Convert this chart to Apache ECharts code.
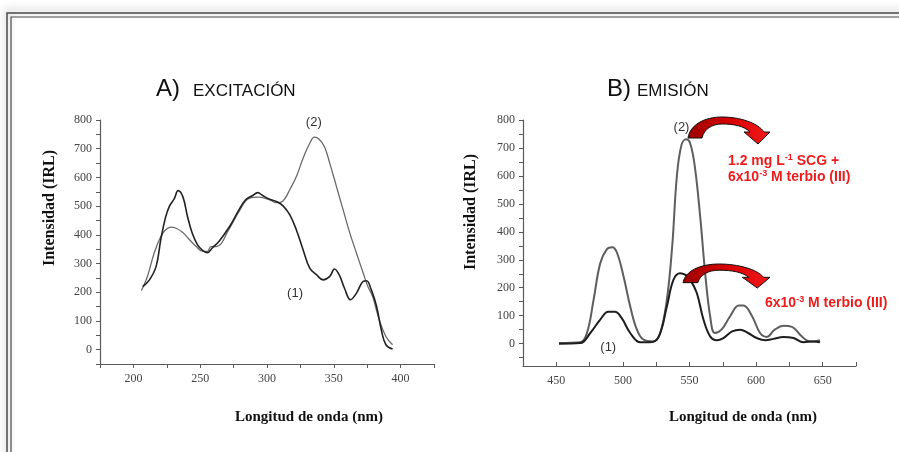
<!DOCTYPE html>
<html>
<head>
<meta charset="utf-8">
<script src="https://cdn.jsdelivr.net/npm/echarts@6/dist/echarts.min.js"></script>
<style>
  html, body { margin: 0; padding: 0; background: #fff; }
  #main { width: 899px; height: 452px; }
</style>
</head>
<body>
<div id="main"></div>
<script>
// A) excitación - wavelength (nm) and intensity
const exWl1 = [207, 212, 217, 220.5, 224, 227, 230.5, 233.5, 237, 240.5, 244, 248, 252, 255.5, 259, 264, 272, 279, 284, 289, 293, 297, 302, 307, 312, 317, 322, 327, 332, 337, 342, 347, 350.5, 354, 358, 362.5, 367, 372, 374.5, 378, 382, 385.5, 389, 394];
const exVal1 = [220, 243, 290, 383, 460, 500, 525, 554, 533, 464, 406, 365, 345, 338, 354, 377, 429, 487, 522, 536, 547, 536, 524, 516, 501, 470, 417, 348, 284, 261, 243, 255, 281, 261, 214, 174, 197, 238, 240, 209, 151, 70, 17, 2];
const exWl2 = [206, 210.5, 215.5, 220.5, 224, 228, 232, 237, 242, 247, 252, 255.5, 258, 262, 272, 279, 287, 294, 302, 307, 312, 317, 322, 327, 332, 335.5, 339, 343, 347, 352, 357, 362, 367, 372, 375.5, 379, 384, 389, 394];
const exVal2 = [206, 255, 336, 394, 417, 427, 423, 408, 383, 359, 342, 342, 359, 359, 423, 481, 528, 531, 522, 512, 518, 557, 603, 667, 719, 740, 733, 707, 649, 568, 487, 406, 336, 267, 220, 186, 104, 46, 17];

// B) emisión
const emWl1 = [452, 468, 475.5, 483, 489, 494, 499, 505.5, 513, 520.5, 527, 533, 538, 543, 547, 550.5, 555.5, 560.5, 565.5, 570.5, 575.5, 582, 588, 594, 600.5, 607, 613, 620.5, 628, 635.5, 643, 648];
const emVal1 = [0, 2, 38, 86, 114, 114, 92, 38, 5, 5, 26, 133, 229, 252, 246, 229, 181, 86, 26, 12, 20, 44, 50, 38, 20, 12, 17, 24, 20, 5, 8, 5];
const emWl2 = [452, 468, 473, 478, 483, 488, 492, 495.5, 500.5, 505.5, 510.5, 515.5, 523, 528, 533, 537, 540.5, 544, 547.5, 550.5, 554, 558, 562, 565.5, 569, 574, 580.5, 587, 590.5, 597, 603, 608, 614, 620.5, 627, 633, 638, 643, 648];
const emVal2 = [2, 5, 38, 157, 288, 338, 345, 326, 240, 133, 50, 14, 8, 38, 157, 348, 598, 711, 731, 717, 633, 455, 240, 98, 38, 50, 98, 136, 136, 98, 38, 24, 50, 64, 60, 32, 12, 8, 12];

// ticks and labels
const exXTicks = [175, 200, 225, 250, 275, 300, 325, 350, 375, 400, 425];
const exXLabels = [200, 250, 300, 350, 400];
const emXTicks = [425, 450, 475, 500, 525, 550, 575, 600, 625, 650, 675];
const emXLabels = [450, 500, 550, 600, 650];
const yTicks = [-50, 0, 50, 100, 150, 200, 250, 300, 350, 400, 450, 500, 550, 600, 650, 700, 750, 800];
const yLabels = [0, 100, 200, 300, 400, 500, 600, 700, 800];

const zip = (xs, ys) => xs.map((x, i) => [x, ys[i]]);

const chart = echarts.init(document.getElementById('main'));

const serif = "'Liberation Serif', 'DejaVu Serif', serif";
const sans = "'Liberation Sans', Arial, sans-serif";
const axisGrey = '#5a5a5a';

function xAxisFor(gridIndex, min, max, ticks, labels, inside) {
  return {
    type: 'value', gridIndex, min, max,
    axisLine: { show: true, onZero: false, lineStyle: { color: axisGrey, width: 1.2 } },
    axisTick: { show: true, inside, length: 4, customValues: ticks, lineStyle: { color: axisGrey } },
    axisLabel: { customValues: labels, margin: 9, color: '#444', fontFamily: serif, fontSize: 12 },
    splitLine: { show: false }
  };
}

function yAxisFor(gridIndex, min) {
  return {
    type: 'value', gridIndex, min, max: 800,
    axisLine: { show: true, onZero: false, lineStyle: { color: axisGrey, width: 1.2 } },
    axisTick: { show: true, length: 4, customValues: yTicks, lineStyle: { color: axisGrey } },
    axisLabel: { customValues: yLabels, margin: 8, color: '#444', fontFamily: serif, fontSize: 12 },
    splitLine: { show: false }
  };
}

function curveLabel(text, coord) {
  return {
    symbol: 'circle',
    symbolSize: 1,
    silent: true,
    itemStyle: { color: 'rgba(0,0,0,0)' },
    label: { show: true, position: 'inside', formatter: text, color: '#333', fontFamily: sans, fontSize: 13 },
    data: [{ coord, value: text }]
  };
}

// curved red arrow, local box about 82 x 27
const arrowPath = 'M0 21 C2 8 16 0 34 0 C52 0 70 6 76 15 L82 15 L70 27 L56 15 L62 15 C56 9 46 7 34 7 C24 7 16 12 14 21 Z';
// arrow boxes: left, top, width, height
const arrowBoxes = [[688, 117, 82, 27], [683, 264, 87, 24]];

const redRich = {
  t: { color: '#ee1c1c', fontSize: 14, fontWeight: 'bold', fontFamily: sans },
  s: { color: '#ee1c1c', fontSize: 9, fontWeight: 'bold', fontFamily: sans, verticalAlign: 'top', padding: [0, 0, 7, 0] }
};
function redText(x, y, text) {
  return { type: 'text', x, y, style: { text, rich: redRich, fill: '#ee1c1c', font: 'bold 14px ' + sans } };
}

chart.setOption({
  animation: false,
  backgroundColor: '#fff',
  grid: [
    { left: 100, right: 465, top: 120, bottom: 88 },
    { left: 523, right: 43, top: 120, bottom: 86 }
  ],
  xAxis: [
    xAxisFor(0, 175, 425, exXTicks, exXLabels, false),
    xAxisFor(1, 425, 675, emXTicks, emXLabels, true)
  ],
  yAxis: [
    yAxisFor(0, -50),
    yAxisFor(1, -80)
  ],
  series: [
    {
      type: 'line', xAxisIndex: 0, yAxisIndex: 0, data: zip(exWl2, exVal2),
      smooth: 0.4, symbol: 'none', lineStyle: { color: '#6a6a6a', width: 1.3 },
      markPoint: curveLabel('(2)', [335, 792])
    },
    {
      type: 'line', xAxisIndex: 0, yAxisIndex: 0, data: zip(exWl1, exVal1),
      smooth: 0.4, symbol: 'none', lineStyle: { color: '#222', width: 1.6 },
      markPoint: curveLabel('(1)', [321, 197])
    },
    {
      type: 'line', xAxisIndex: 1, yAxisIndex: 1, data: zip(emWl2, emVal2),
      smooth: 0.4, symbol: 'none', lineStyle: { color: '#5e5e5e', width: 2 },
      markPoint: curveLabel('(2)', [544, 774])
    },
    {
      type: 'line', xAxisIndex: 1, yAxisIndex: 1, data: zip(emWl1, emVal1),
      smooth: 0.4, symbol: 'none', lineStyle: { color: '#1e1e1e', width: 2 },
      markPoint: curveLabel('(1)', [489, -12])
    },
    {
      // red curved arrows
      type: 'custom', coordinateSystem: 'none', silent: true, z: 5,
      data: arrowBoxes.map((b, i) => i),
      renderItem: (params) => {
        const b = arrowBoxes[params.dataIndex];
        return {
          type: 'path',
          shape: { pathData: arrowPath, layout: 'cover', x: b[0], y: b[1], width: b[2], height: b[3] },
          style: {
            fill: new echarts.graphic.LinearGradient(0, 0, 1, 0, [
              { offset: 0, color: '#9a0000' },
              { offset: 0.5, color: '#d80000' },
              { offset: 1, color: '#f21a1a' }
            ]),
            stroke: '#111', lineWidth: 1
          }
        };
      }
    }
  ],
  graphic: [
    // frame with shadow
    { type: 'rect', silent: true, shape: { x: 7, y: 13, width: 1000, height: 1000 },
      style: { fill: 'none', stroke: '#4a4a4a', lineWidth: 1.5, shadowBlur: 8, shadowColor: 'rgba(0,0,0,0.45)', shadowOffsetY: -2 } },
    { type: 'rect', silent: true, shape: { x: 11, y: 17, width: 1000, height: 1000 },
      style: { fill: 'none', stroke: '#4a4a4a', lineWidth: 1.2 } },
    // panel titles
    { type: 'text', x: 156, y: 89, style: { text: 'A)', font: '24px ' + sans, fill: '#111', verticalAlign: 'middle' } },
    { type: 'text', x: 193, y: 91, style: { text: 'EXCITACIÓN', font: '17px ' + sans, fill: '#111', verticalAlign: 'middle' } },
    { type: 'text', x: 607, y: 89, style: { text: 'B)', font: '24px ' + sans, fill: '#111', verticalAlign: 'middle' } },
    { type: 'text', x: 637, y: 91, style: { text: 'EMISIÓN', font: '17px ' + sans, fill: '#111', verticalAlign: 'middle' } },
    // axis names
    { type: 'text', x: 50, y: 208, rotation: Math.PI / 2,
      style: { text: 'Intensidad (IRL)', font: 'bold 16px ' + serif, fill: '#111', align: 'center', verticalAlign: 'middle' } },
    { type: 'text', x: 471, y: 212, rotation: Math.PI / 2,
      style: { text: 'Intensidad (IRL)', font: 'bold 16px ' + serif, fill: '#111', align: 'center', verticalAlign: 'middle' } },
    { type: 'text', x: 309, y: 417,
      style: { text: 'Longitud de onda (nm)', font: 'bold 15px ' + serif, fill: '#111', align: 'center', verticalAlign: 'middle' } },
    { type: 'text', x: 743, y: 417,
      style: { text: 'Longitud de onda (nm)', font: 'bold 15px ' + serif, fill: '#111', align: 'center', verticalAlign: 'middle' } },
    // red annotations
    redText(728, 153, '{t|1.2 mg L}{s|-1}{t| SCG +}'),
    redText(728, 169, '{t|6x10}{s|-3}{t| M terbio (III)}'),
    redText(765, 295, '{t|6x10}{s|-3}{t| M terbio (III)}')
  ]
});
</script>
</body>
</html>
